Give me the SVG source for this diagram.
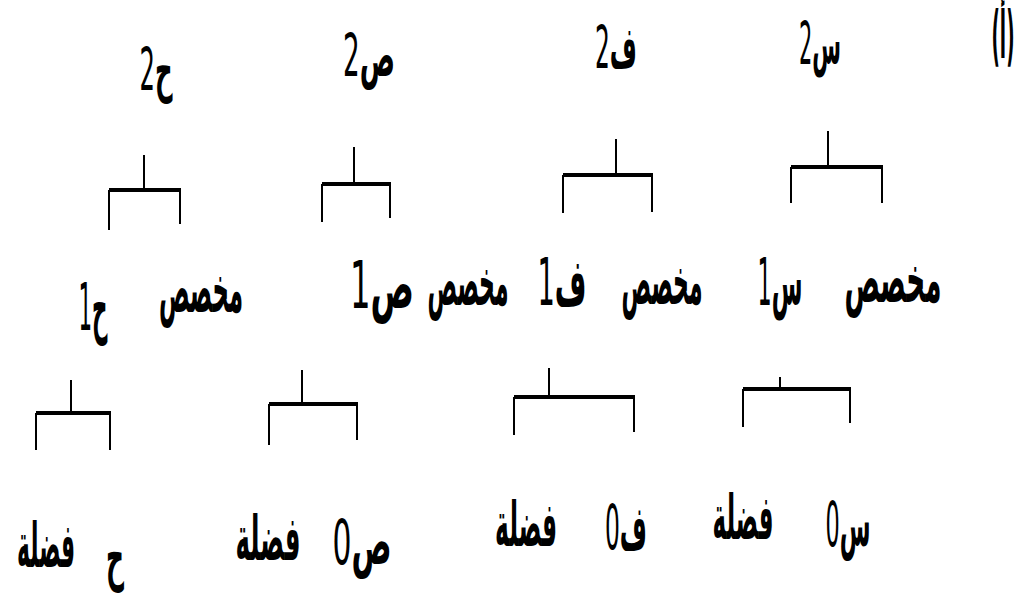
<svg xmlns="http://www.w3.org/2000/svg" width="1015" height="597" viewBox="0 0 1015 597">
<style>
.t{font-family:'DejaVu Sans','Noto Sans',sans-serif;font-weight:bold;fill:#000;direction:rtl;unicode-bidi:embed;text-anchor:middle}
.d{font-weight:normal}
.r1{font-size:58px}
.r2{font-size:66px}
.r3{font-size:62px}
.ln{stroke:#000;stroke-width:2;fill:none}
.bar{stroke:#000;stroke-width:4;fill:none}
</style>
<rect width="1015" height="597" fill="#fff"/>
<g id="label-a"><text class="t" x="1003" y="58" font-size="66" font-weight="normal" textLength="23" lengthAdjust="spacingAndGlyphs">(أ)</text></g>
<g id="n-s2"><text class="t r1" x="820" y="64" textLength="42" lengthAdjust="spacingAndGlyphs">س<tspan class="d">2</tspan></text></g>
<g id="n-f2"><text class="t r1" x="616" y="68" textLength="42" lengthAdjust="spacingAndGlyphs">ف<tspan class="d">2</tspan></text></g>
<g id="n-s2b"><text class="t r1" x="369" y="76" textLength="52" lengthAdjust="spacingAndGlyphs">ص<tspan class="d">2</tspan></text></g>
<g id="n-h2"><text class="t r1" x="156" y="90" textLength="33" lengthAdjust="spacingAndGlyphs">ح<tspan class="d">2</tspan></text></g>
<g id="n-spec-s"><text class="t r2" x="893" y="302" textLength="97" lengthAdjust="spacingAndGlyphs">مخصص</text></g>
<g id="n-s1"><text class="t r2" x="780" y="305" textLength="45" lengthAdjust="spacingAndGlyphs">س<tspan class="d">1</tspan></text></g>
<g id="n-spec-f"><text class="t r2" x="662" y="304" textLength="81" lengthAdjust="spacingAndGlyphs">مخصص</text></g>
<g id="n-f1"><text class="t r2" x="562" y="305" textLength="49" lengthAdjust="spacingAndGlyphs">ف<tspan class="d">1</tspan></text></g>
<g id="n-spec-sad"><text class="t r2" x="468" y="305" textLength="81" lengthAdjust="spacingAndGlyphs">مخصص</text></g>
<g id="n-sad1"><text class="t r2" x="382" y="308" textLength="64" lengthAdjust="spacingAndGlyphs">ص<tspan class="d">1</tspan></text></g>
<g id="n-spec-h"><text class="t r2" x="201" y="312" textLength="84" lengthAdjust="spacingAndGlyphs">مخصص</text></g>
<g id="n-h1"><text class="t r2" x="93" y="330" textLength="29" lengthAdjust="spacingAndGlyphs">ح<tspan class="d">1</tspan></text></g>
<g id="n-s0"><text class="t r3" x="848" y="546" textLength="45" lengthAdjust="spacingAndGlyphs">س<tspan class="d">0</tspan></text></g>
<g id="n-comp-s"><text class="t r3" x="743" y="539" textLength="61" lengthAdjust="spacingAndGlyphs">فضلة</text></g>
<g id="n-f0"><text class="t r3" x="626" y="549" textLength="42" lengthAdjust="spacingAndGlyphs">ف<tspan class="d">0</tspan></text></g>
<g id="n-comp-f"><text class="t r3" x="526" y="546" textLength="62" lengthAdjust="spacingAndGlyphs">فضلة</text></g>
<g id="n-sad0"><text class="t r3" x="362" y="564" textLength="59" lengthAdjust="spacingAndGlyphs">ص<tspan class="d">0</tspan></text></g>
<g id="n-comp-sad"><text class="t r3" x="268" y="560" textLength="65" lengthAdjust="spacingAndGlyphs">فضلة</text></g>
<g id="n-h0"><text class="t r3" x="115" y="578" textLength="18" lengthAdjust="spacingAndGlyphs">ح</text></g>
<g id="n-comp-h"><text class="t r3" x="46" y="567" textLength="58" lengthAdjust="spacingAndGlyphs">فضلة</text></g>
<g id="connectors">
<path class="ln" d="M144,155V190M109,230V190M180,224V190"/>
<path class="bar" d="M109,190H181"/>
<path class="ln" d="M354,147V184M322,222V184M390,218V184"/>
<path class="bar" d="M322,184H391"/>
<path class="ln" d="M616,139V175M563,213V175M652,212V175"/>
<path class="bar" d="M563,175H653"/>
<path class="ln" d="M828,131V167M791,203V167M882,203V167"/>
<path class="bar" d="M791,167H883"/>
<path class="ln" d="M71,380V413M36,450V413M110,450V413"/>
<path class="bar" d="M36,413H111"/>
<path class="ln" d="M302,370V404M269,445V404M357,440V404"/>
<path class="bar" d="M269,404H358"/>
<path class="ln" d="M549,368V397M514,435V397M634,432V397"/>
<path class="bar" d="M514,397H635"/>
<path class="ln" d="M780,377V389M743,427V389M850,423V389"/>
<path class="bar" d="M743,389H851"/>
</g>
</svg>
